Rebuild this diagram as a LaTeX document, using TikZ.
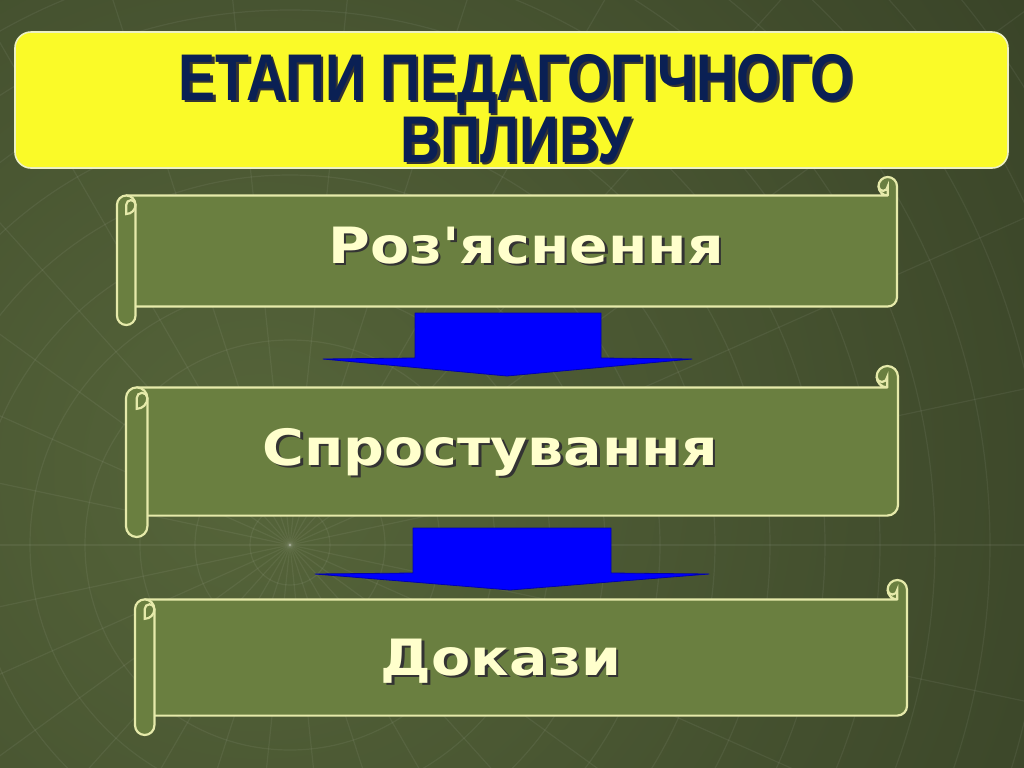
\documentclass[tikz,border=0pt]{standalone}
\usepackage{fontspec}
\newfontfamily\titlefont[FakeStretch=0.84]{Liberation Sans}
\newfontfamily\stepfont[Ligatures=TeXOff,FakeStretch=1.14]{DejaVu Sans}

\definecolor{bgdark}{RGB}{42,50,30}
\definecolor{bglight}{RGB}{86,101,58}
\definecolor{olive}{RGB}{106,127,64}
\definecolor{rim}{RGB}{230,234,170}
\definecolor{lemon}{RGB}{250,250,40}
\definecolor{navy}{RGB}{10,32,84}
\definecolor{cream}{RGB}{255,255,204}
\definecolor{arrowblue}{RGB}{0,0,255}

% text with a dark drop shadow
\newcommand\shadowed[1]{\rlap{\kern1.3pt\raisebox{-1.3pt}{\color{black!80}#1}}#1}

% scroll banner: left, top, right, bottom, curl size
\newcommand\scrollshape[5]{%
  \pgfmathsetmacro\sh{#5/2}\pgfmathsetmacro\sq{#5/4}%
  \draw[scroll] (#1+\sh,#2+#5) -- (#3-\sh,#2+#5) arc (90:360:\sh)
    -- (#3,#4-#5-\sh) arc (0:90:\sh) -- (#1+\sh,#4-#5) -- cycle;
  \draw[curl] (#3-#5,#2+\sh) arc (180:0:\sq) -- (#3-\sh,#2+#5);
  % rolled left end
  \draw[scroll] (#1,#2+#5+\sh) arc (180:360:\sh) -- (#1+#5,#4-\sh)
    arc (0:180:\sh) -- cycle;
  \draw[curl] (#1+\sh,#2+2*#5) arc (90:0:\sh) arc (0:-180:\sq) -- cycle;
}

\begin{document}
\begin{tikzpicture}[x=.5pt,y=-.5pt,
  scroll/.style={fill=olive,draw=rim,line width=1.1pt,line join=round},
  curl/.style={draw=rim,line width=1.1pt},
  web/.style={white,opacity=.06,line width=.6pt},
  titlebox/.style={fill=lemon,draw=rim!70!white,line width=.8pt,rounded corners=8pt},
  steptext/.style={anchor=base,text=cream,font=\stepfont\bfseries\fontsize{25}{30}\selectfont},
  titletext/.style={anchor=base,align=center,text=navy,inner sep=0pt,
    execute at begin node={\lineskiplimit=-30pt},
    font=\titlefont\bfseries\fontsize{33}{31}\selectfont},
  blockarrow/.style={fill=arrowblue,draw=arrowblue!70!black,line width=.4pt,line join=round}]
  \useasboundingbox (0,0) rectangle (1024,767);
  % background
  \begin{scope}
    \clip (0,0) rectangle (1024,767);
    \shade[inner color=bglight,outer color=bgdark] (260,470) circle (1400);
    \foreach \a in {0,12,...,348} \draw[web] (290,545) -- ++(\a:1300);
    \foreach \r in {40,95,...,900} \draw[web] (290,545) circle (\r);
  \end{scope}
  % title
  \draw[titlebox] (15,32) rectangle (1008,168);
  \node[titletext] (title) at (516,162)
    {\shadowed{ЕТАПИ ПЕДАГОГІЧНОГО}\\\shadowed{ВПЛИВУ}};
  % scrolls
  \scrollshape{117}{177}{897}{325}{18.5}
  \scrollshape{126}{366}{898}{537}{21.4}
  \scrollshape{135}{580}{907}{735}{19.4}
  \node[steptext] (rozyasn) at (526,263) {\shadowed{Роз'яснення}};
  \node[steptext] (sprost) at (490,465) {\shadowed{Спростування}};
  \node[steptext] (dokazy) at (501,675) {\shadowed{Докази}};
  % block arrows
  \draw[blockarrow] (415,313) -- (601,313) -- (601,358) -- (692,359)
    -- (507,376) -- (323,359) -- (415,358) -- cycle;
  \draw[blockarrow] (413,528) -- (611,528) -- (611,573) -- (709,574)
    -- (510,590) -- (315,574) -- (413,573) -- cycle;
\end{tikzpicture}
\end{document}
